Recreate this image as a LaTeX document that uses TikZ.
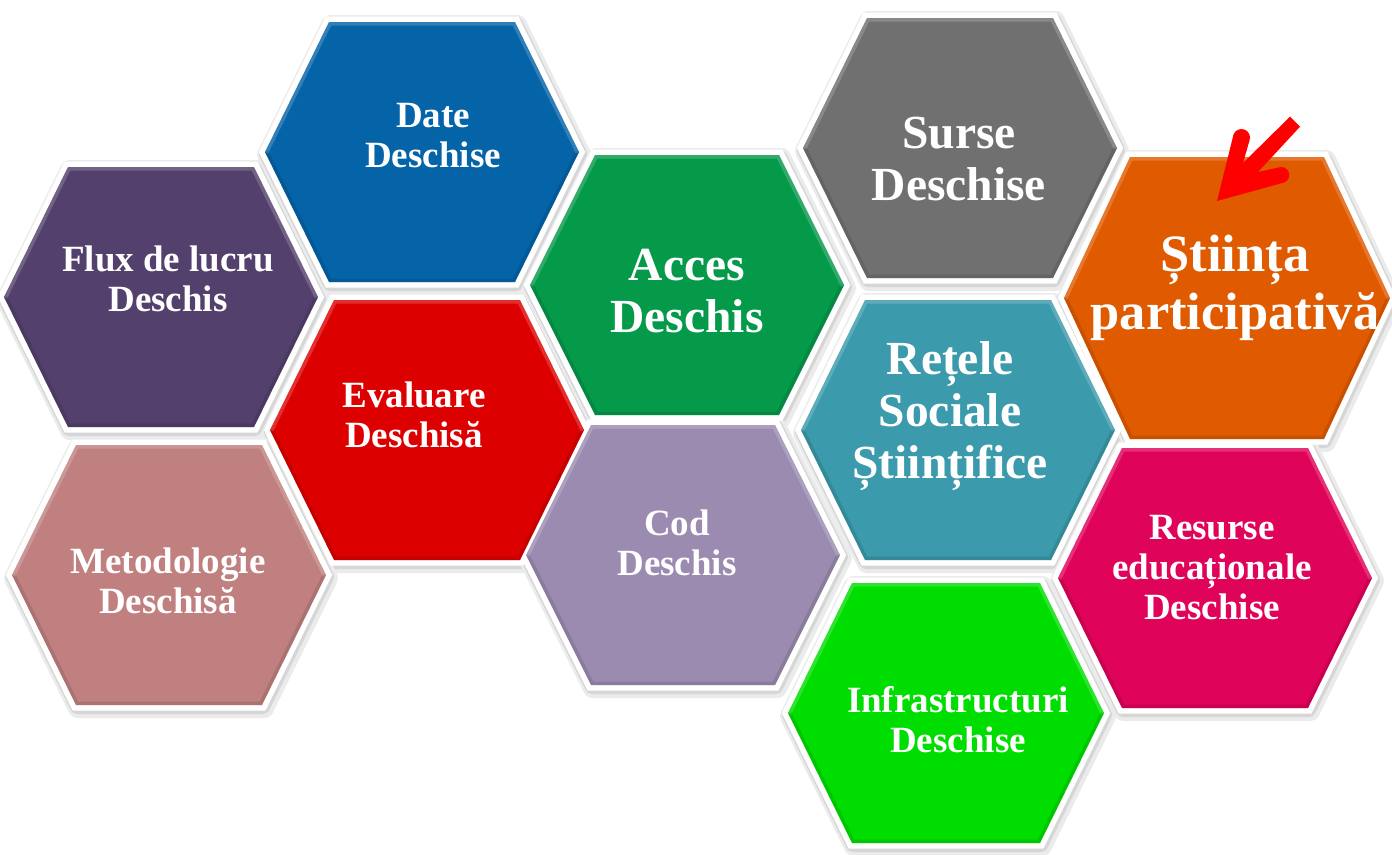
\documentclass[tikz,border=0pt]{standalone}
\usepackage{fontspec}
\setmainfont{Liberation Serif}
\definecolor{cpurple}{HTML}{53406C}
\definecolor{cblue}{HTML}{0563A8}
\definecolor{cred}{HTML}{DD0000}
\definecolor{crose}{HTML}{C08080}
\definecolor{cgreen}{HTML}{05994A}
\definecolor{clilac}{HTML}{9B8BB0}
\definecolor{cgray}{HTML}{707070}
\definecolor{cteal}{HTML}{3B9AAB}
\definecolor{corange}{HTML}{E05A00}
\definecolor{cmagenta}{HTML}{E0035A}
\definecolor{clime}{HTML}{00DD00}
\newcommand{\hexpath}[5]{(#1-#3,#2) -- (#1-#4,#2-#5) -- (#1+#4,#2-#5) -- (#1+#3,#2) -- (#1+#4,#2+#5) -- (#1-#4,#2+#5) -- cycle}
\newcommand{\hexlist}{161/297/cpurple/157/93/130, 422/152/cblue/157/93/130, 427/430/cred/157/93/130, 169/575/crose/157/93/130, 687/285/cgreen/157/92/130, 683/555/clilac/157/92/130, 960/148/cgray/157/93/130, 958/430/cteal/157/93/130, 1227/298/corange/163/97/141, 1215/578/cmagenta/157/93/130, 946/713/clime/158/94/130}
\begin{document}
\begin{tikzpicture}[x=1pt,y=-1pt,
  lbl/.style={text=white, align=center, inner sep=0pt},
  fsmall/.style={font=\bfseries\fontsize{37}{40}\selectfont},
  fbig/.style={font=\bfseries\fontsize{47.5}{52}\selectfont},
  fhuge/.style={font=\bfseries\fontsize{52.5}{58}\selectfont},
  arrowfill/.style={fill=red}]
\useasboundingbox (0,0) rectangle (1392,854);
\fill[white] (0,0) rectangle (1392,854);
% shadows
\foreach \cx/\cy/\col/\hw/\he/\hh in \hexlist {
  \draw[black!8, line width=20pt, line join=round, shift={(2,3)}] \hexpath{\cx}{\cy}{\hw}{\he}{\hh};
  \draw[black!16, line width=14pt, line join=round, shift={(1,2)}] \hexpath{\cx}{\cy}{\hw}{\he}{\hh};
}
% white borders
\foreach \cx/\cy/\col/\hw/\he/\hh in \hexlist {
  \draw[white, line width=11pt, line join=miter] \hexpath{\cx}{\cy}{\hw}{\he}{\hh};
}
% fills with bevel
\foreach \cx/\cy/\col/\hw/\he/\hh in \hexlist {
  \fill[\col] \hexpath{\cx}{\cy}{\hw}{\he}{\hh};
  \begin{scope}
    \clip \hexpath{\cx}{\cy}{\hw}{\he}{\hh};
    \draw[\col!70!black, opacity=0.35, line width=7pt, line join=miter]
      (\cx-\hw,\cy) -- (\cx-\he,\cy+\hh) -- (\cx+\he,\cy+\hh) -- (\cx+\hw,\cy);
    \draw[white, opacity=0.18, line width=7pt, line join=miter]
      (\cx-\hw,\cy) -- (\cx-\he,\cy-\hh) -- (\cx+\he,\cy-\hh) -- (\cx+\hw,\cy);
  \end{scope}
}
% labels
\node[lbl, fsmall] (flux) at (168,279) {Flux de lucru\\Deschis};
\node[lbl, fsmall] (date) at (433,136) {Date\\Deschise};
\node[lbl, fsmall] (eval) at (414,415) {Evaluare\\Deschisă};
\node[lbl, fsmall] (meto) at (168,581) {Metodologie\\Deschisă};
\node[lbl, fbig] (acces) at (687,291) {Acces\\Deschis};
\node[lbl, fsmall] (cod) at (677,543) {Cod\\Deschis};
\node[lbl, fbig] (surse) at (959,159) {Surse\\Deschise};
\node[lbl, fhuge] (stiinta) at (1235,288) {Știința\\participativă};
\node[lbl, fbig] (retele) at (950,416) {Rețele\\Sociale\\Științifice};
\node[lbl, fsmall] (resurse) at (1212,568) {Resurse\\educaționale\\Deschise};
\node[lbl, fsmall] (infra) at (958,720) {Infrastructuri\\Deschise};
% red arrow (filled outline)
\coordinate (atip) at (1217,201);
\coordinate (a1l) at (1233.5,134.6);
\coordinate (a1r) at (1249.5,140.4);
\coordinate (a1in) at (1243,163);
\coordinate (s1) at (1290,116.7);
\coordinate (s2) at (1300,126.7);
\coordinate (a2in) at (1258,172);
\coordinate (a2u) at (1278.4,167.5);
\coordinate (a2d) at (1284.2,182.5);
\coordinate (c1) at (1241.5,137.5);
\coordinate (c2) at (1281.3,175);
\fill[arrowfill] (atip) -- (a1l) -- (a1r) -- (a1in) -- (s1) -- (s2) -- (a2in) -- (a2u) -- (a2d) -- cycle;
\fill[arrowfill] (c1) circle[radius=8.5pt];
\fill[arrowfill] (c2) circle[radius=8pt];
\end{tikzpicture}
\end{document}
